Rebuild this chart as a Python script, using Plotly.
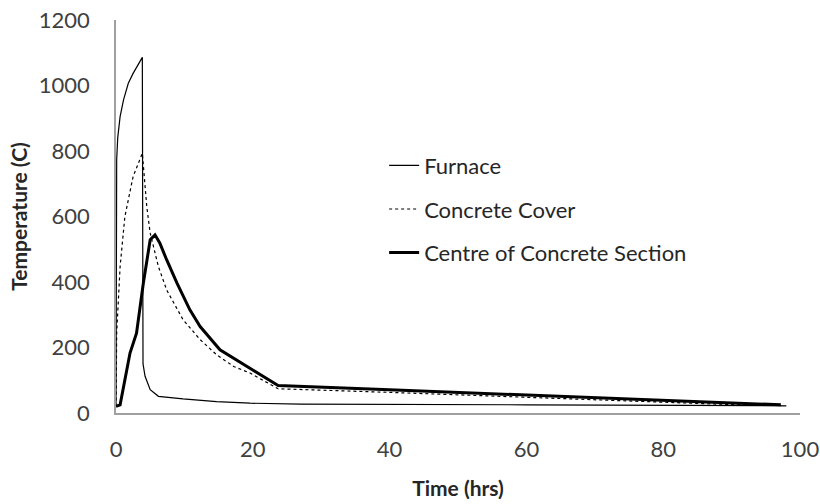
import plotly.graph_objects as go

# Furnace
furnace_t = [0, 0.05, 0.1, 0.25, 0.6, 1.1, 1.8, 2.5, 3.85, 3.95, 4.25, 5.0, 6.2, 9.8, 14.7, 19.6, 27, 60, 98]
furnace_T = [25, 590, 773, 840, 905, 956, 1007, 1037, 1086, 150, 112, 71, 51, 43, 35, 30, 27, 25, 22]

# Concrete cover
cover_t = [0, 0.1, 0.6, 1.3, 2.5, 3.85, 4.5, 5.0, 6.2, 7.4, 9.8, 12.3, 14.7, 17.2, 19.6, 23.7, 40, 60, 80, 88, 97]
cover_T = [20, 244, 447, 600, 722, 793, 630, 549, 447, 376, 285, 224, 178, 142, 122, 74, 63, 49, 33, 27, 24]

# Centre of concrete section
centre_t = [0, 0.6, 2.05, 3.0, 4.0, 5.0, 5.7, 6.4, 7.4, 8.9, 10.8, 12.3, 15.2, 19.6, 23.7, 40, 60, 80, 97.2]
centre_T = [20, 25, 183, 244, 397, 529, 544, 519, 468, 397, 315, 264, 193, 137, 84, 71, 55, 39, 25]

x_ticks = [0, 20, 40, 60, 80, 100]
y_ticks = [0, 200, 400, 600, 800, 1000, 1200]

FONT = "Lato"
fig = go.Figure()
fig.add_trace(go.Scatter(x=furnace_t, y=furnace_T, mode="lines", name="Furnace",
                         line=dict(color="black", width=1.2), legendgroup="a"))
fig.add_trace(go.Scatter(x=cover_t, y=cover_T, mode="lines", name="Concrete Cover",
                         line=dict(color="black", width=1.2, dash="dot"), legendgroup="b"))
fig.add_trace(go.Scatter(x=centre_t, y=centre_T, mode="lines", name="Centre of Concrete Section",
                         line=dict(color="black", width=3), legendgroup="c"))

fig.update_layout(
    width=820, height=504,
    margin=dict(l=116, r=20, t=20, b=91),
    paper_bgcolor="white", plot_bgcolor="white",
    font=dict(family=FONT, color="#404040", size=22),
    legend=dict(x=0.392, y=0.683, xanchor="left", yanchor="top",
                font=dict(family=FONT, size=22, color="#262626"),
                tracegroupgap=12, bgcolor="rgba(0,0,0,0)"),
    xaxis=dict(range=[0, 100], tickvals=x_ticks, showgrid=False,
               zeroline=False, showline=True, linecolor="#a0a0a0", linewidth=1.5,
               ticks="", ticklabelstandoff=16, automargin=False, ticklabeloverflow="allow",
               title=dict(text="<b>Time (hrs)</b>", font=dict(size=21, color="#262626"), standoff=20)),
    yaxis=dict(range=[0, 1200], tickvals=y_ticks, showgrid=False,
               zeroline=False, showline=True, linecolor="#a0a0a0", linewidth=1.5,
               ticks="", ticklabelstandoff=20, automargin=False, ticklabeloverflow="allow",
               title=dict(text="<b>Temperature (C)</b>", font=dict(size=21, color="#262626"), standoff=5)),
)

fig.write_html("out.html", config={"displayModeBar": False},
               post_script="document.body.style.margin='0px';document.body.style.overflow='hidden';")
